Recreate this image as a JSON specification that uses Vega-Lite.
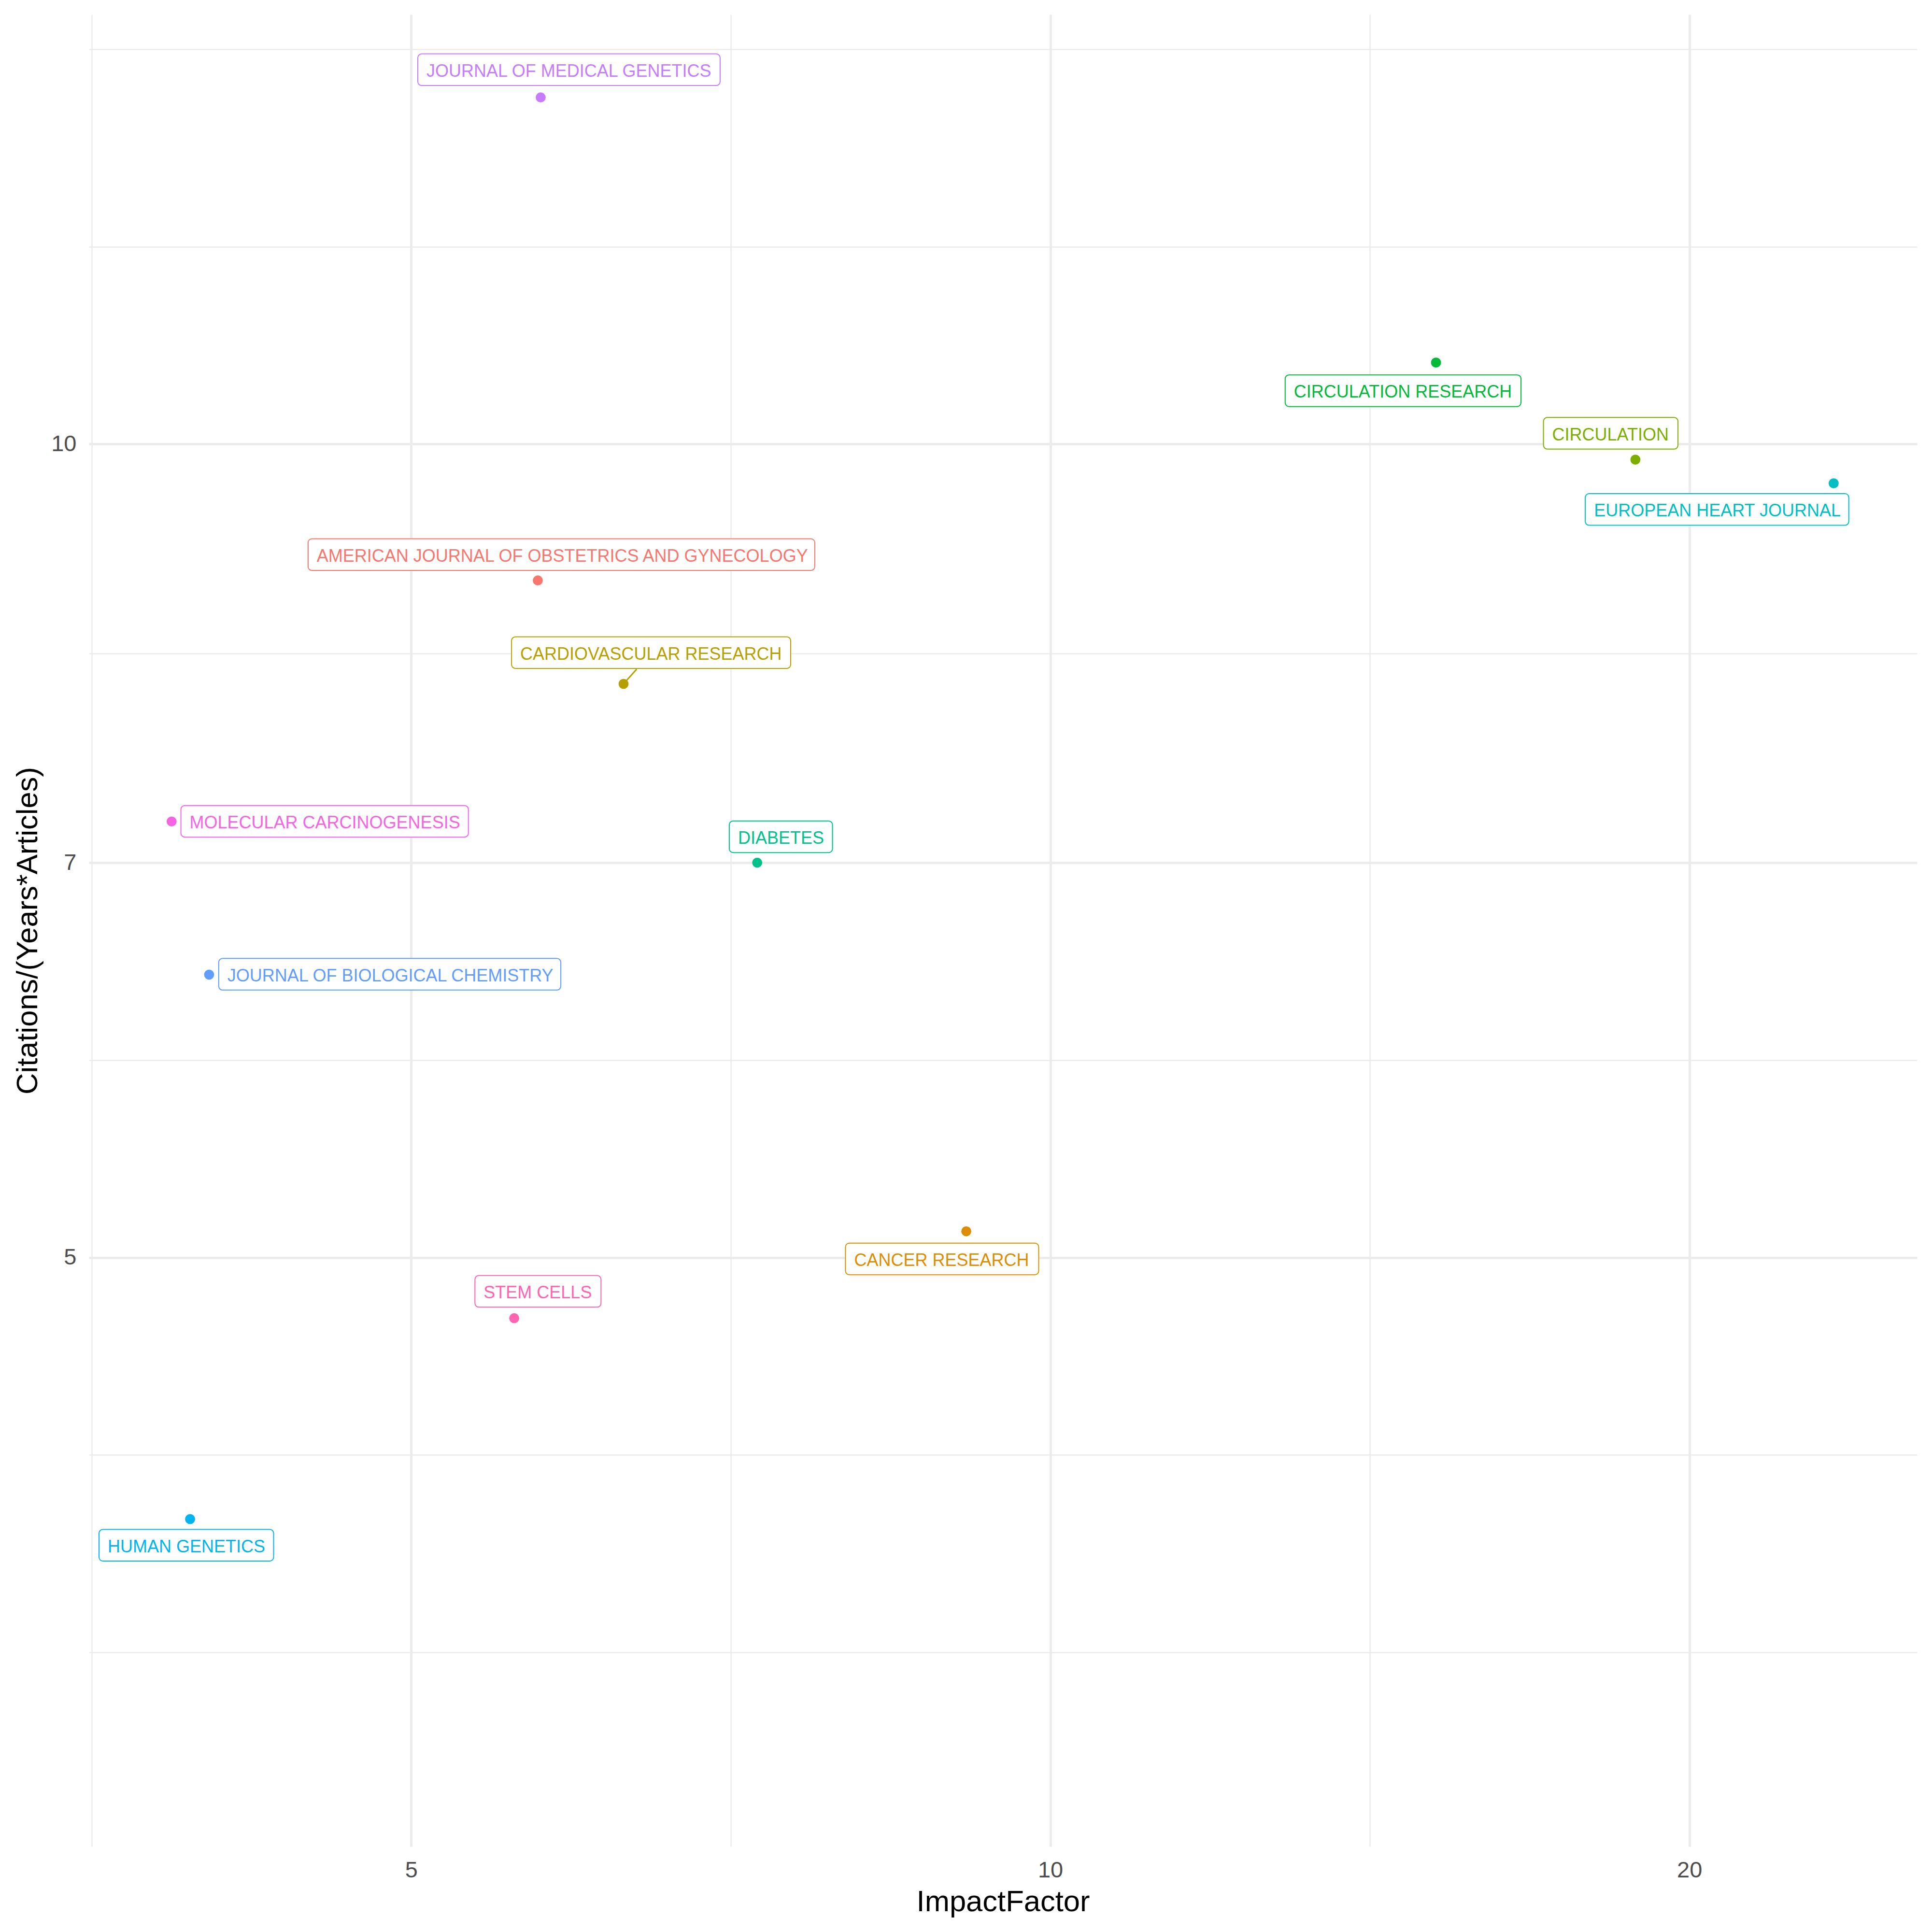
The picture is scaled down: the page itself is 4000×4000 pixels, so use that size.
{
  "$schema": "https://vega.github.io/schema/vega-lite/v6.json",
  "width": 3785,
  "height": 3793,
  "autosize": {"type": "none"},
  "padding": {"left": 184, "top": 30, "right": 31, "bottom": 177},
  "background": "white",
  "config": {"view": {"stroke": null}, "font": "Liberation Sans"},
  "data": {
    "values": [
      {"journal": "AMERICAN JOURNAL OF OBSTETRICS AND GYNECOLOGY", "IF": 5.736, "CIT": 8.903, "lx1": 4.471, "lx2": 7.746, "ly": 9.101},
      {"journal": "CANCER RESEARCH", "IF": 9.129, "CIT": 5.113, "lx1": 8.008, "lx2": 9.875, "ly": 4.994},
      {"journal": "CARDIOVASCULAR RESEARCH", "IF": 6.295, "CIT": 8.152, "lx1": 5.575, "lx2": 7.546, "ly": 8.372, "sx": 6.385, "sy": 8.254},
      {"journal": "CIRCULATION", "IF": 18.862, "CIT": 9.868, "lx1": 17.072, "lx2": 19.754, "ly": 10.092},
      {"journal": "CIRCULATION RESEARCH", "IF": 15.194, "CIT": 10.719, "lx1": 12.901, "lx2": 16.661, "ly": 10.465},
      {"journal": "DIABETES", "IF": 7.277, "CIT": 7.0, "lx1": 7.06, "lx2": 7.896, "ly": 7.156},
      {"journal": "EUROPEAN HEART JOURNAL", "IF": 23.387, "CIT": 9.671, "lx1": 17.864, "lx2": 23.774, "ly": 9.458},
      {"journal": "HUMAN GENETICS", "IF": 3.934, "CIT": 4.001, "lx1": 3.564, "lx2": 4.307, "ly": 3.913},
      {"journal": "JOURNAL OF BIOLOGICAL CHEMISTRY", "IF": 4.016, "CIT": 6.363, "lx1": 4.058, "lx2": 5.881, "ly": 6.365},
      {"journal": "JOURNAL OF MEDICAL GENETICS", "IF": 5.754, "CIT": 13.436, "lx1": 5.036, "lx2": 6.99, "ly": 13.757},
      {"journal": "MOLECULAR CARCINOGENESIS", "IF": 3.856, "CIT": 7.25, "lx1": 3.895, "lx2": 5.32, "ly": 7.251},
      {"journal": "STEM CELLS", "IF": 5.591, "CIT": 4.748, "lx1": 5.358, "lx2": 6.143, "ly": 4.858}
    ]
  },
  "layer": [
    {
      "mark": {"type": "point", "filled": true, "opacity": 1, "size": 430, "shape": "circle"},
      "encoding": {
        "x": {
          "field": "IF", "type": "quantitative", "title": "ImpactFactor",
          "scale": {"type": "log", "domain": [3.525, 25.6], "nice": false, "zero": false},
          "axis": {
            "title": "ImpactFactor",
            "values": [3.5355, 5, 7.0711, 10, 14.1421, 20],
            "labelExpr": "(datum.value == 5 || datum.value == 10 || datum.value == 20) ? ('' + datum.value) : ''",
            "labelOverlap": false, "labelFlush": false,
            "domain": false, "ticks": false,
            "grid": true, "gridColor": "#EBEBEB",
            "gridWidth": {"condition": {"test": "datum.value == 5 || datum.value == 10 || datum.value == 20", "value": 5}, "value": 2.5},
            "labelColor": "#4D4D4D", "labelFontSize": 47, "labelPadding": 26.5, "labelFont": "Liberation Sans",
            "titleFontSize": 61.5, "titleColor": "#000000", "titleFontWeight": "normal", "titleFont": "Liberation Sans", "titlePadding": 12
          }
        },
        "y": {
          "field": "CIT", "type": "quantitative", "title": "Citations/(Years*Articles)",
          "scale": {"type": "log", "domain": [3.027, 14.42], "nice": false, "zero": false},
          "axis": {
            "title": "Citations/(Years*Articles)",
            "values": [3.5714, 4.2258, 5, 5.9161, 7, 8.3666, 10, 11.8322, 14],
            "labelExpr": "(datum.value == 5 || datum.value == 7 || datum.value == 10) ? ('' + datum.value) : ''",
            "labelOverlap": false, "labelFlush": false,
            "domain": false, "ticks": false,
            "grid": true, "gridColor": "#EBEBEB",
            "gridWidth": {"condition": {"test": "datum.value == 5 || datum.value == 7 || datum.value == 10", "value": 5}, "value": 2.5},
            "labelColor": "#4D4D4D", "labelFontSize": 47, "labelPadding": 26, "labelFont": "Liberation Sans",
            "titleFontSize": 61.5, "titleColor": "#000000", "titleFontWeight": "normal", "titleFont": "Liberation Sans", "titlePadding": 16
          }
        },
        "color": {
          "field": "journal", "type": "nominal", "legend": null,
          "scale": {
            "domain": ["AMERICAN JOURNAL OF OBSTETRICS AND GYNECOLOGY", "CANCER RESEARCH", "CARDIOVASCULAR RESEARCH", "CIRCULATION", "CIRCULATION RESEARCH", "DIABETES", "EUROPEAN HEART JOURNAL", "HUMAN GENETICS", "JOURNAL OF BIOLOGICAL CHEMISTRY", "JOURNAL OF MEDICAL GENETICS", "MOLECULAR CARCINOGENESIS", "STEM CELLS"],
            "range": ["#F8766D", "#DE8C00", "#B79F00", "#7CAE00", "#00BA38", "#00C08B", "#00BFC4", "#00B4F0", "#619CFF", "#C77CFF", "#F564E3", "#FF64B0"]
          }
        }
      }
    },
    {
      "transform": [{"filter": "isValid(datum.sx)"}],
      "mark": {"type": "rule", "strokeWidth": 3},
      "encoding": {
        "x": {"field": "IF", "type": "quantitative", "title": "ImpactFactor", "scale": {"type": "log", "domain": [3.525, 25.6], "nice": false, "zero": false}},
        "y": {"field": "CIT", "type": "quantitative", "title": "Citations/(Years*Articles)", "scale": {"type": "log", "domain": [3.027, 14.42], "nice": false, "zero": false}},
        "x2": {"field": "sx"},
        "y2": {"field": "sy"},
        "color": {"field": "journal", "type": "nominal", "legend": null}
      }
    },
    {
      "mark": {"type": "rect", "height": 65.5, "fill": "white", "strokeWidth": 2, "cornerRadius": 8},
      "encoding": {
        "x": {"field": "lx1", "type": "quantitative", "title": "ImpactFactor", "scale": {"type": "log", "domain": [3.525, 25.6], "nice": false, "zero": false}},
        "x2": {"field": "lx2"},
        "y": {"field": "ly", "type": "quantitative", "title": "Citations/(Years*Articles)", "scale": {"type": "log", "domain": [3.027, 14.42], "nice": false, "zero": false}},
        "stroke": {"field": "journal", "type": "nominal", "legend": null,
          "scale": {
            "domain": ["AMERICAN JOURNAL OF OBSTETRICS AND GYNECOLOGY", "CANCER RESEARCH", "CARDIOVASCULAR RESEARCH", "CIRCULATION", "CIRCULATION RESEARCH", "DIABETES", "EUROPEAN HEART JOURNAL", "HUMAN GENETICS", "JOURNAL OF BIOLOGICAL CHEMISTRY", "JOURNAL OF MEDICAL GENETICS", "MOLECULAR CARCINOGENESIS", "STEM CELLS"],
            "range": ["#F8766D", "#DE8C00", "#B79F00", "#7CAE00", "#00BA38", "#00C08B", "#00BFC4", "#00B4F0", "#619CFF", "#C77CFF", "#F564E3", "#FF64B0"]
          }
        }
      }
    },
    {
      "mark": {"type": "text", "align": "left", "baseline": "middle", "dx": 18, "dy": 3.5, "fontSize": 36, "font": "Liberation Sans"},
      "encoding": {
        "x": {"field": "lx1", "type": "quantitative", "title": "ImpactFactor", "scale": {"type": "log", "domain": [3.525, 25.6], "nice": false, "zero": false}},
        "y": {"field": "ly", "type": "quantitative", "title": "Citations/(Years*Articles)", "scale": {"type": "log", "domain": [3.027, 14.42], "nice": false, "zero": false}},
        "text": {"field": "journal"},
        "color": {"field": "journal", "type": "nominal", "legend": null}
      }
    }
  ]
}
